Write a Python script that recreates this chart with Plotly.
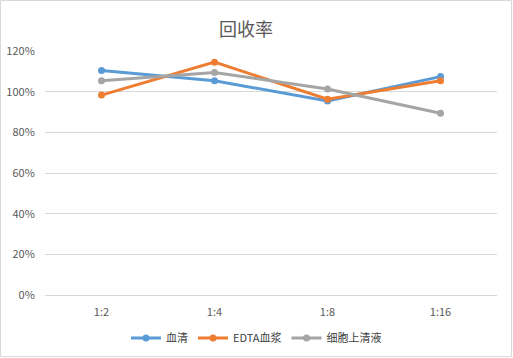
import plotly.graph_objects as go

categories = ["1:2", "1:4", "1:8", "1:16"]
serum = [110.4, 105.4, 95.4, 107.4]
edta_plasma = [98.3, 114.5, 96.3, 105.4]
supernatant = [105.4, 109.4, 101.3, 89.4]
series_names = ["血清", "EDTA血浆", "细胞上清液"]
colors = ["#5B9BD5", "#ED7D31", "#A5A5A5"]
y_ticks = [0, 20, 40, 60, 80, 100, 120]
y_tick_labels = [f"{v}%" for v in y_ticks]

W, H = 513, 358
ml, mr, mt, mb = 45, 16, 51, 63
pw, ph = W - ml - mr, H - mt - mb

fig = go.Figure()
for name, vals, c in zip(series_names, [serum, edta_plasma, supernatant], colors):
    fig.add_trace(go.Scatter(
        x=categories, y=vals, name=name, mode="lines+markers",
        line=dict(color=c, width=3),
        marker=dict(color=c, size=7),
    ))

fig.update_layout(
    width=W, height=H,
    margin=dict(l=ml, r=mr, t=mt, b=mb, autoexpand=False),
    paper_bgcolor="white", plot_bgcolor="white",
    font=dict(family="Noto Sans CJK SC, Noto Sans, sans-serif", color="#595959", size=11),
    title=dict(text="回收率", x=246 / W, xanchor="center", xref="container",
               y=1 - 30 / H, yanchor="middle", yref="container",
               font=dict(size=18, color="#595959")),
    showlegend=True,
    legend=dict(orientation="h", x=0.5, xanchor="center", xref="container",
                y=1 - 338 / H, yanchor="middle", yref="container",
                font=dict(size=11, color="#404040")),
    xaxis=dict(type="category", range=[-0.5, 3.5], showgrid=False,
               showline=True, linecolor="#D9D9D9", linewidth=1,
               ticks="outside", ticklen=7, tickcolor="rgba(0,0,0,0)",
               tickfont=dict(size=11, color="#595959")),
    yaxis=dict(range=[0, 120], tickmode="array", tickvals=y_ticks, ticktext=y_tick_labels,
               showgrid=True, gridcolor="#D9D9D9", gridwidth=1, zeroline=False,
               showline=False, ticks="outside", ticklen=7, tickcolor="rgba(0,0,0,0)",
               tickfont=dict(size=11, color="#595959")),
    shapes=[dict(type="rect", xref="paper", yref="paper",
                 x0=(0.5 - ml) / pw, x1=(W - 1.5 - ml) / pw,
                 y0=-(mb - 1.5) / ph, y1=1 + (mt - 0.5) / ph,
                 line=dict(color="#D9D9D9", width=1), layer="below")],
)

fig.write_html("out.html", config={"displayModeBar": False},
               post_script="document.body.style.margin='0';")
